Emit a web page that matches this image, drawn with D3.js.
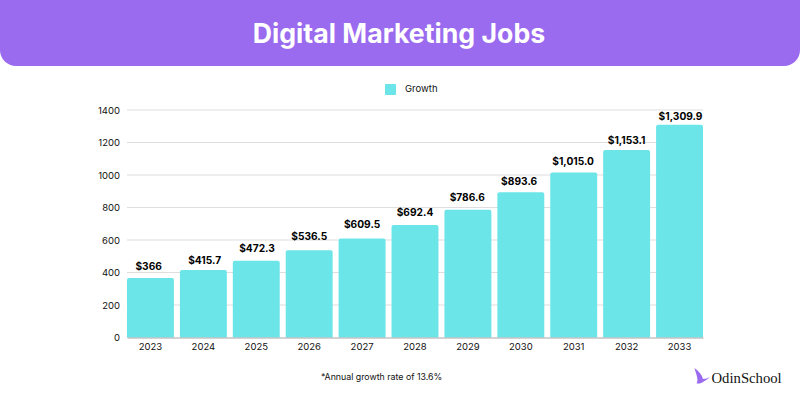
<!DOCTYPE html>
<html>
<head>
<meta charset="utf-8">
<script src="https://cdn.jsdelivr.net/npm/d3@7"></script>
<style>
html, body { margin: 0; padding: 0; background: #fff; overflow: hidden; }
svg { display: block; }
text { font-family: Inter, "Noto Sans", sans-serif; fill: #111; }
</style>
</head>
<body>
<svg id="view"></svg>
<script>
var years = ["2023","2024","2025","2026","2027","2028","2029","2030","2031","2032","2033"];
var growth = [366, 415.7, 472.3, 536.5, 609.5, 692.4, 786.6, 893.6, 1015.0, 1153.1, 1309.9];
var labels = ["$366","$415.7","$472.3","$536.5","$609.5","$692.4","$786.6","$893.6","$1,015.0","$1,153.1","$1,309.9"];
var yTicks = [0, 200, 400, 600, 800, 1000, 1200, 1400];

// the value labels were placed by hand in the original, so each has its own nudge
var labelGap = [8, 5.7, 8.7, 10.7, 10.7, 9, 8.7, 7, 7.7, 6, 5];
var labelShift = [-1.8, 1.3, 0.7, 0, 0, 0, -0.7, -1.7, -0.6, 0, 1];

var width = 800, height = 400;
var svg = d3.select("#view").attr("width", width).attr("height", height);

// header band, square on top and rounded at the bottom
svg.append("path")
	.attr("d", "M0,0H800V50A16,16 0 0 1 784,66H16A16,16 0 0 1 0,50Z")
	.attr("fill", "#9a6bef");
svg.append("text")
	.attr("x", 399).attr("y", 43)
	.attr("text-anchor", "middle")
	.attr("font-size", 26.7).attr("font-weight", 700)
	.style("fill", "#fff")
	.text("Digital Marketing Jobs");

// legend
svg.append("rect")
	.attr("x", 385).attr("y", 84).attr("width", 11).attr("height", 11).attr("rx", 1)
	.attr("fill", "#6ce5e9");
svg.append("text")
	.attr("x", 405).attr("y", 92)
	.attr("font-size", 9.5)
	.text("Growth");

var x = d3.scaleBand().domain(years).range([127, 703]).paddingInner(0.113).paddingOuter(0);
var y = d3.scaleLinear().domain([0, 1400]).range([337.5, 110]);

// grid
svg.append("g").selectAll("line")
	.data(yTicks.slice(1))
	.join("line")
	.attr("x1", 127).attr("x2", 703)
	.attr("y1", d => y(d)).attr("y2", d => y(d))
	.attr("stroke", "#dedede").attr("stroke-width", 1.2);

// y axis
var yAxis = svg.append("g")
	.attr("transform", "translate(127,0)")
	.call(d3.axisLeft(y).tickValues(yTicks).tickSize(0).tickPadding(7).tickFormat(d3.format("d")));
yAxis.select(".domain").remove();
yAxis.selectAll("text").attr("font-size", 9.5).style("font-family", "Inter").style("fill", "#111");

// bars
svg.append("g").selectAll("path")
	.data(growth)
	.join("path")
	.attr("fill", "#6ce5e9")
	.attr("d", (d, i) => {
		var l = x(years[i]), w = x.bandwidth(), t = y(d), b = y(0), r = 2;
		return "M" + l + "," + b + "V" + (t + r) + "Q" + l + "," + t + " " + (l + r) + "," + t +
			"H" + (l + w - r) + "Q" + (l + w) + "," + t + " " + (l + w) + "," + (t + r) + "V" + b + "Z";
	});

// value labels
svg.append("g").selectAll("text")
	.data(growth)
	.join("text")
	.attr("x", (d, i) => x(years[i]) + x.bandwidth() / 2 + labelShift[i])
	.attr("y", (d, i) => y(d) - labelGap[i])
	.attr("text-anchor", "middle")
	.attr("font-size", 10.2).attr("font-weight", 700)
	.style("fill", "#000")
	.text((d, i) => labels[i]);

// x axis
var xAxis = svg.append("g")
	.attr("transform", "translate(0,337.5)")
	.call(d3.axisBottom(x).tickSize(0).tickPadding(6));
xAxis.select(".domain").attr("stroke", "#a8a8a8").attr("stroke-width", 1);
xAxis.selectAll("text").attr("font-size", 9.5).style("font-family", "Inter").style("fill", "#111");

// footnote
svg.append("text")
	.attr("x", 381.5).attr("y", 380)
	.attr("text-anchor", "middle")
	.attr("font-size", 8.8)
	.text("*Annual growth rate of 13.6%");

// logo
svg.append("path")
	.attr("d", "M694.5,368 C699,371 702,375 703,379 C706,379 708,378 710,377 C707,380 704,381 703,382 C702,383 699,384 696.5,383.3 C699,380 696,374 694.5,368Z")
	.attr("fill", "#9a6bef");
svg.append("text")
	.attr("x", 711.5).attr("y", 383.3)
	.attr("font-size", 14.7)
	.style("font-family", "'Liberation Serif'")
	.text("OdinSchool");
</script>
</body>
</html>
